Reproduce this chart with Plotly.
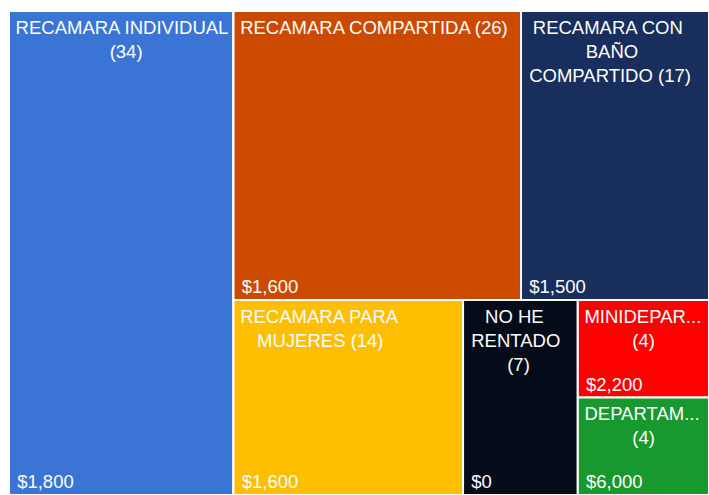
import plotly.graph_objects as go

categories = ["RECAMARA INDIVIDUAL", "RECAMARA COMPARTIDA", "RECAMARA CON BAÑO COMPARTIDO",
              "RECAMARA PARA MUJERES", "NO HE RENTADO", "MINIDEPARTAMENTO", "DEPARTAMENTO"]
counts = [34, 26, 17, 14, 7, 4, 4]
prices = [1800, 1600, 1500, 1600, 0, 2200, 6000]
colors = ["#3A74D5", "#CC4A00", "#182E5C", "#FFBE00", "#040C1A", "#FF0000", "#17992F"]
# label lines as drawn in the tiles
label_lines = [
    ["RECAMARA INDIVIDUAL", "(34)"],
    ["RECAMARA COMPARTIDA (26)"],
    ["RECAMARA CON", "BAÑO", "COMPARTIDO (17)"],
    ["RECAMARA PARA", "MUJERES (14)"],
    ["NO HE", "RENTADO", "(7)"],
    ["MINIDEPAR...", "(4)"],
    ["DEPARTAM...", "(4)"],
]
# tile arrangement groups
leaf_parent = ["ROOT", "G_T", "G_T", "G_B", "G_B", "G_M", "G_M"]
group_ids = ["ROOT", "G_R", "G_T", "G_B", "G_M"]
group_parents = ["", "ROOT", "G_R", "G_R", "G_B"]

ids = categories + group_ids
parents = leaf_parent + group_parents


def subtotal(node):
    tot = 0
    for i, p in zip(ids, parents):
        if p == node:
            tot += counts[categories.index(i)] if i in categories else subtotal(i)
    return tot


values = counts + [subtotal(g) for g in group_ids]

# approximate glyph widths (em) used only to centre the lines of a label
W = {c: 0.667 for c in "ABEKPSVXY"}
W.update({c: 0.722 for c in "CDHNRUÑ"})
W.update({c: 0.778 for c in "GOQ"})
W.update({"F": 0.611, "T": 0.611, "Z": 0.611, "I": 0.278, "J": 0.5, "L": 0.556,
          "M": 0.833, "W": 0.944, " ": 0.278, "(": 0.333, ")": 0.333, ".": 0.278})
W.update({c: 0.556 for c in "0123456789"})
NBSP = 0.278


def text_w(s):
    return sum(W.get(c, 0.6) for c in s)


def center_lines(lines):
    width = max(text_w(l) for l in lines)
    out = []
    for k, l in enumerate(lines):
        pad = int(round((width - text_w(l)) / 2 / NBSP))
        lead = "<sup>\u00a0</sup>" if k == 0 else "\u00a0"
        out.append(lead + "\u00a0" * pad + l)
    return "<br>".join(out)


label_text = [center_lines(l) for l in label_lines]
price_text = ["\u00a0" + f"${p:,}" for p in prices]
ng = len(group_ids)

font = dict(family="Liberation Sans, Arial, sans-serif", size=18.5, color="white")
common = dict(ids=ids, labels=ids, parents=parents, values=values, branchvalues="total",
              sort=False, tiling=dict(pad=0, packing="slice-dice"), pathbar=dict(visible=False),
              domain=dict(x=[0, 1], y=[0, 1]), hoverinfo="skip")

fig = go.Figure()
fig.add_trace(go.Treemap(**common, text=label_text + [""] * ng, texttemplate="%{text}",
                         textposition="top left", textfont=font,
                         marker=dict(colors=colors + ["white"] * ng, pad=dict(t=0, l=0, r=0, b=0),
                                     line=dict(color="white", width=2))))
fig.add_trace(go.Treemap(**common, text=price_text + [""] * ng, texttemplate="%{text}",
                         textposition="bottom left", textfont=font,
                         marker=dict(colors=["rgba(0,0,0,0)"] * len(ids), pad=dict(t=0, l=0, r=0, b=0),
                                     line=dict(color="rgba(0,0,0,0)", width=0))))
fig.update_layout(width=709, height=495, margin=dict(l=9, r=0, t=11, b=0),
                  paper_bgcolor="white", showlegend=False,
                  uniformtext=dict(minsize=18.5, mode="show"))
fig.write_html("out.html", config={"displayModeBar": False},
               post_script="document.body.style.margin='0';")
